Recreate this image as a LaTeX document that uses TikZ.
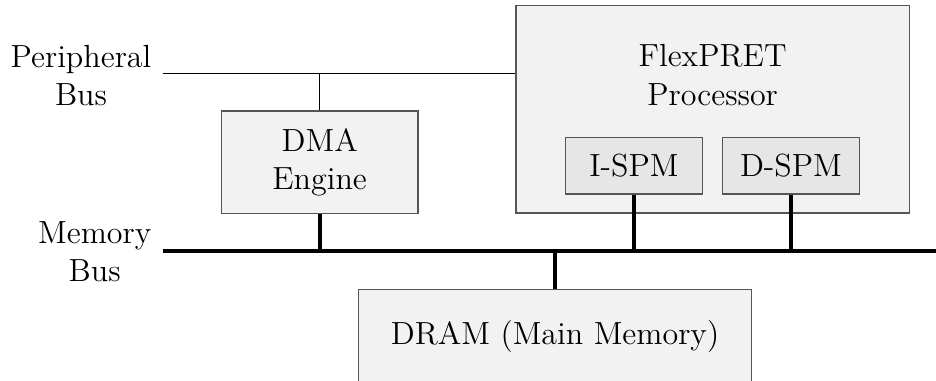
\documentclass[tikz,border=0pt]{standalone}
\usepackage{tikz}
\usetikzlibrary{positioning,calc}
\definecolor{boxfill}{HTML}{F2F2F2}
\definecolor{spmfill}{HTML}{E6E6E6}
\definecolor{boxline}{HTML}{555555}

\begin{document}
\begin{tikzpicture}[
        every node/.style={font=\fontsize{14.7}{17.6}\selectfont},
        pbox/.style={draw=boxline, line width=0.6pt, fill=boxfill,
            align=center, inner sep=0pt},
        sbox/.style={draw=boxline, line width=0.6pt, fill=spmfill,
            minimum width=22.2mm, minimum height=9.1mm, inner sep=0pt},
        blab/.style={anchor=east, align=center, inner xsep=5pt},
        pbus/.style={line width=0.5pt},
        mbus/.style={line width=1.8pt},
    ]

    \clip (0,0) rectangle (15.097,-6.145);

    % bus end points
    \coordinate (pbw) at (2.624,-1.182);
    \coordinate (mbw) at (2.624,-4.044);
    \coordinate (mbe) at (15.2,-4.044);

    \node[pbox, minimum width=63.4mm, minimum height=33.5mm] at (11.494,-1.762) (proc) {};
    \node[align=center] at (11.494,-1.21) (ptxt) {FlexPRET\\Processor};
    \node[pbox, minimum width=31.7mm, minimum height=16.5mm] at (5.156,-2.615) (dma) {DMA\\Engine};
    \node[sbox] at (10.226,-2.672) (ispm) {I-SPM};
    \node[sbox] at (12.758,-2.672) (dspm) {D-SPM};
    \node[pbox, anchor=north, minimum width=63.4mm, text height=8.9mm, text depth=10mm]
        at (8.952,-4.656) (dram) {DRAM (Main Memory)};

    \node[blab] at ($(pbw)+(0,-0.04)$) (plab) {Peripheral\\Bus};
    \node[blab] at ($(mbw)+(0,-0.02)$) (mlab) {Memory\\Bus};

    % peripheral bus
    \draw[pbus] (pbw) -- (proc.west |- pbw);
    \draw[pbus] (dma.north) -- (dma.north |- pbw);

    % memory bus
    \draw[mbus] (mbw) -- (mbe);
    \draw[mbus] (dma.south) -- (dma.south |- mbw);
    \draw[mbus] (ispm.south) -- (ispm.south |- mbw);
    \draw[mbus] (dspm.south) -- (dspm.south |- mbw);
    \draw[mbus] (dram.north) -- (dram.north |- mbw);

\end{tikzpicture}
\end{document}
